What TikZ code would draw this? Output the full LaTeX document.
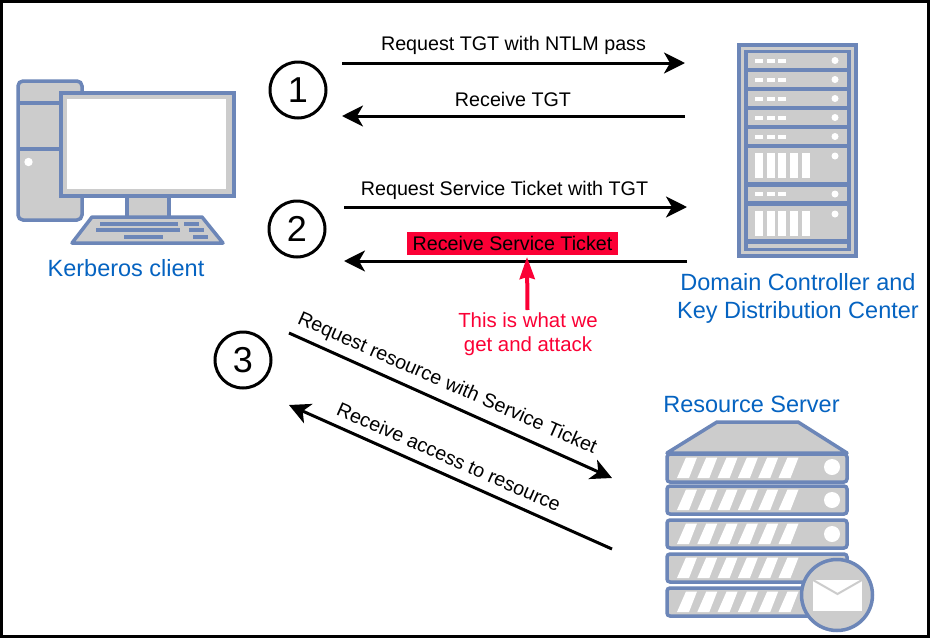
\documentclass[tikz,border=0pt]{standalone}
\usepackage{fontspec}
\setmainfont{Liberation Sans}
\usepackage{tikz}
\usetikzlibrary{arrows.meta}
\definecolor{iconblue}{HTML}{6C86B8}
\definecolor{icongray}{HTML}{CCCCCC}
\definecolor{labelblue}{HTML}{0563C1}
\definecolor{alertred}{HTML}{FB0035}
\tikzset{
	icon/.style={draw=iconblue, fill=icongray, line width=3.5pt},
	hole/.style={fill=white, draw=none},
	key/.style={fill=iconblue, draw=none},
	flow/.style={line width=3pt, -{Stealth[length=21pt, width=21pt, inset=6pt]}},
	flowlabel/.style={font=\fontsize{19.7}{24}\selectfont, inner sep=0pt},
	hostlabel/.style={font=\fontsize{23.5}{28}\selectfont, text=labelblue, align=center, inner sep=0pt},
	stepmark/.style={circle, draw, line width=3pt, minimum size=56pt, inner sep=0pt, font=\fontsize{36}{40}\selectfont}
}
\begin{document}
\begin{tikzpicture}[x=1pt, y=-1pt]
	\useasboundingbox (0,0) rectangle (930,638);
	\fill[white] (0,0) rectangle (930,638);
	\draw[line width=3pt] (1.5,1.5) rectangle (928.5,636.5);

	% Kerberos client: tower, monitor and keyboard
	\draw[icon, rounded corners=5pt] (18,81) rectangle (82,220);
	\draw[draw=iconblue, line width=3.5pt] (18,103) -- (70,103);
	\draw[draw=iconblue, line width=3.5pt] (18,149) -- (70,149);
	\fill[hole] (28.5,162) circle (4.2);
	\draw[icon] (127,196) rectangle (169,218);
	\draw[icon] (61,93) rectangle (234,196);
	\fill[white] (67,99) rectangle (226,189);
	\draw[icon, line join=round] (92,217) -- (202,217) -- (223,243) -- (72,243) -- cycle;
	\fill[key] (100,221.5) rectangle (178,225.5);
	\fill[key] (184,221.5) rectangle (199,225.5);
	\fill[key] (96,228) rectangle (180,232);
	\fill[key] (189,228) rectangle (204,232);
	\fill[key] (124,235) rectangle (163,239);
	\fill[key] (193,235) rectangle (208,239);
	\node[hostlabel] (client) at (126,268) {Kerberos client};

	% Domain controller rack
	\fill[iconblue] (737,43) rectangle (858,258);
	\fill[icongray] (741,47) rectangle (854,254);
	\fill[iconblue] (744,50) rectangle (851,251);
	\foreach \top/\bot in {53/68, 72/87, 91/106, 110/125, 129/144, 187/201} {
		\fill[icongray] (748,\top) rectangle (847,\bot);
		\fill[hole] (835,{(\top+\bot)/2}) circle (3.5);
		\foreach \x in {755,767,778}
			\fill[hole] (\x,{(\top+\bot)/2-2}) rectangle (\x+7.5,{(\top+\bot)/2+2});
	}
	\foreach \top/\bot in {148/182, 206/239} {
		\fill[icongray] (748,\top) rectangle (847,\bot);
		\fill[hole] (835,\top+8) circle (3.5);
		\foreach \x in {755,767,778,790,802}
			\fill[hole] (\x,\top+4.5) rectangle (\x+7.5,\top+30);
	}
	\fill[icongray] (748,244) rectangle (847,248);
	\node[hostlabel] (kdc) at (798,298) {Domain Controller and\\Key Distribution Center};

	% Resource server stack
	\node[hostlabel] (resource) at (751.5,404) {Resource Server};
	\draw[icon, line join=round] (717,422) -- (798,422) -- (847,453) -- (667,453) -- cycle;
	\foreach \top in {453,485,519,553,587} {
		\draw[icon, rounded corners=3pt] (667,\top+1) rectangle (847,\top+29);
		\foreach \x in {677,697.3,717.6,737.9,758.2,778.5}
			\fill[hole] (\x,\top+25) -- (\x+12,\top+25) -- (\x+20,\top+4.5) -- (\x+9,\top+4.5) -- cycle;
	}
	\fill[hole] (832,467) circle (8);
	\fill[hole] (832,500) circle (8);
	\fill[hole] (832,534) circle (8);
	\draw[icon] (837,595) circle (35.5);
	\fill[hole] (813,580) rectangle (862,611);
	\draw[icongray, line width=2pt] (813,580) -- (837.5,594) -- (862,580);

	% Numbered steps
	\node[stepmark] (one) at (298,90) {1};
	\node[stepmark] (two) at (297,229) {2};
	\node[stepmark] (three) at (243,360) {3};

	% Ends of the flows, from top to bottom
	\coordinate (tgtreqa) at (342,63);
	\coordinate (tgtreqb) at (685,63);
	\coordinate (tgtrecb) at (342,116);
	\coordinate (tgtreca) at (685,116);
	\coordinate (stkreqa) at (344,207);
	\coordinate (stkreqb) at (687,207);
	\coordinate (stkrecb) at (344,261);
	\coordinate (stkreca) at (687,261);
	\coordinate (resreqa) at (289,333);
	\coordinate (resreqb) at (612,478);
	\coordinate (resreca) at (612,549);
	\coordinate (resrecb) at (289,405);

	\draw[flow] (tgtreqa) -- (tgtreqb);
	\draw[flow] (tgtreca) -- (tgtrecb);
	\draw[flow] (stkreqa) -- (stkreqb);
	\draw[flow] (stkreca) -- (stkrecb);
	\draw[flow] (resreqa) -- (resreqb);
	\draw[flow] (resreca) -- (resrecb);

	\node[flowlabel] (tgtreq) at (513.5,45) {Request TGT with NTLM pass};
	\node[flowlabel] (tgtrec) at (513,99) {Receive TGT};
	\node[flowlabel] (stkreq) at (504.5,190) {Request Service Ticket with TGT};
	\node[flowlabel, fill=alertred, minimum width=211pt, minimum height=23pt] (stkrec) at (512.5,243.5) {Receive Service Ticket};
	\node[flowlabel, rotate=-23.8] (resreq) at (447,384) {Request resource with Service Ticket};
	\node[flowlabel, rotate=-23.8] (resrec) at (449,457) {Receive access to resource};

	% Red remark below the second flow
	\node[font=\fontsize{20.4}{24}\selectfont, text=alertred, align=center, inner sep=0pt] (remark) at (528,334) {This is what we\\get and attack};
	\coordinate (remarkend) at (527,257);
	\draw[alertred, line width=4pt, -{Stealth[length=22pt, width=15pt, inset=2pt]}] (527.5,310) -- (remarkend);
\end{tikzpicture}
\end{document}
